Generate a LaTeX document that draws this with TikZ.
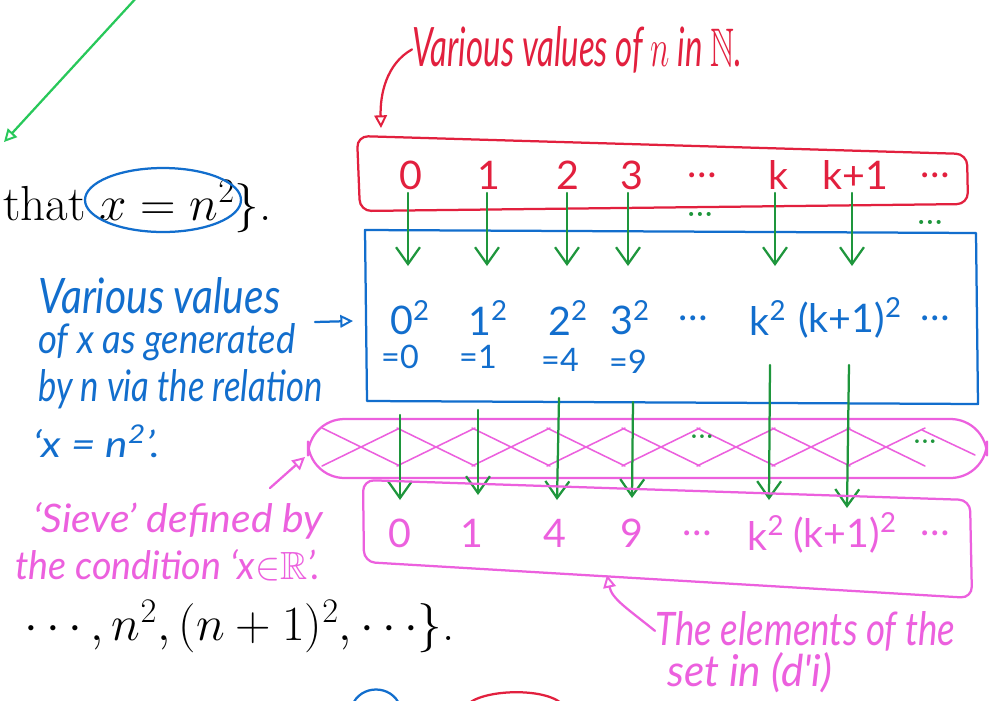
\RequirePackage{fix-cm}
\documentclass[tikz,border=0pt]{standalone}
\usepackage{graphicx}
\usepackage{amssymb}
\usepackage{fontspec}
\newfontfamily\hand{Lato}
\newdimen\pxu \pxu=0.025cm
\newcommand{\hw}[3]{\resizebox{#1\pxu}{#2\pxu}{#3}}
\usetikzlibrary{arrows.meta}
\definecolor{hred}{RGB}{226,32,62}
\definecolor{hblue}{RGB}{18,110,205}
\definecolor{hgreen}{RGB}{30,150,60}
\definecolor{lgreen}{RGB}{40,200,90}
\definecolor{hpink}{RGB}{236,96,222}
\tikzset{
  pen/.style={line width=1.6pt, line cap=round, line join=round},
  vtip/.style={-{Straight Barb[length=12pt,width=17pt,line width=1.6pt]}},
  otip/.style={-{Triangle[open,length=9pt,width=9pt,line width=1.4pt]}},
  ann/.style={font=\hand\itshape\fontsize{27}{30}\selectfont, inner sep=0pt, anchor=base west},
  num/.style={font=\hand\fontsize{28}{30}\selectfont, inner sep=1pt},
  sub/.style={font=\hand\fontsize{23}{26}\selectfont, inner sep=1pt},
  mtext/.style={font=\fontsize{35}{40}\selectfont, inner sep=0pt, anchor=base east},
}
\begin{document}
\begin{tikzpicture}[x=0.025cm,y=-0.025cm]
\useasboundingbox (0,0) rectangle (989,700);
\clip (0,0) rectangle (989,700);
\fill[white] (0,0) rectangle (989,700);

% printed math
\node[mtext] (m1) at (272,220) {that\hspace{0.28em}$x = n^2\}$.};
\node[mtext] (m2) at (455,640) {$\cdots, n^2, (n+1)^2, \cdots\}$.};
\draw[pen, hblue] (163,200) ellipse (78 and 32);

% green top-left line
\coordinate (gl1) at (138,-4);
\coordinate (gl2) at (4,142);
\draw[pen, lgreen, otip] (gl1) -- (gl2);

% red annotation
\node[ann, hred] (rt) at (412,66) {\hw{330}{40}{Various values of $n$ in $\mathbb{N}$.}};
\coordinate (ra) at (381,128);
\draw[pen, hred, otip] (rt.west) .. controls (386,64) and (380,95) .. (ra);

% red box
\draw[pen, hred, rounded corners=8] (357,136) -- (967,154) -- (968,204) -- (360,211) -- cycle;
\foreach \t/\x [count=\i] in {0/411,1/489,2/568,3/632,\dots/702,k/778,k+1/855,\dots/935}
  \node[num, hred] (r\i) at (\x,175) {\t};

% blue box
\draw[pen, hblue] (365,230) -- (976,233) -- (978,404) -- (367,401) -- cycle;
\foreach \t/\x [count=\i] in {0\textsuperscript{2}/410,1\textsuperscript{2}/488,2\textsuperscript{2}/568,3\textsuperscript{2}/630,\dots/693,k\textsuperscript{2}/768,(k+1)\textsuperscript{2}/850,\dots/935}
  \node[num, hblue] (b\i) at (\x,318) {\t};
\foreach \t/\x/\y [count=\i] in {=0/400/357,=1/478/357,=4/560/360,=9/628/362}
  \node[sub, hblue] (e\i) at (\x,\y) {\t};

% blue annotation
\node[ann, hblue] (bt1) at (38,313) {\hw{242}{36}{Various values}};
\node[ann, hblue] (bt2) at (38,353) {\hw{257}{30}{of x as generated}};
\node[ann, hblue] (bt3) at (38,401) {\hw{284}{32}{by n via the relation}};
\node[ann, hblue] (bt4) at (33,457) {\hw{127}{32}{‘x = n\textsuperscript{2}’.}};
\coordinate (ba) at (353,321);
\draw[pen, hblue, otip] (315,322) -- (ba);

% green arrows, first set
\foreach \x [count=\i] in {408,487,567,628,775,852} {
  \coordinate (ga\i) at (\x,193);
  \coordinate (gb\i) at (\x,266);
  \draw[pen, hgreen, vtip] (ga\i) -- (gb\i);
}
\node[hgreen, font=\bfseries\fontsize{20}{20}\selectfont] (d1) at (700,214) {...};
\node[hgreen, font=\bfseries\fontsize{20}{20}\selectfont] (d2) at (930,222) {...};

% sieve
\draw[pen, hpink, rounded corners=26] (308,419) rectangle (987,478);
\foreach \x in {322,397,472,547,622,697,772,847} {
  \draw[pen, hpink, line width=1.1pt] (\x,428) -- (\x+78,466);
  \draw[pen, hpink, line width=1.1pt] (\x,466) -- (\x+78,428);
}
\draw[pen, hpink, line width=1.1pt] (922,430) -- (975,455);
\node[hgreen, font=\bfseries\fontsize{18}{18}\selectfont] (d3) at (702,437) {...};
\node[hgreen, font=\bfseries\fontsize{18}{18}\selectfont] (d4) at (925,442) {...};

% green arrows, second set
\foreach \xa/\ya/\xb/\yb [count=\i] in {400/415/400/500,478/410/478/495,559/398/557/500,633/402/632/498,770/365/769/500,849/365/847/508} {
  \coordinate (gc\i) at (\xa,\ya);
  \coordinate (gd\i) at (\xb,\yb);
  \draw[pen, hgreen, vtip] (gc\i) -- (gd\i);
}

% pink box
\draw[pen, hpink, rounded corners=8] (363,480) -- (970,500) -- (972,598) -- (364,562) -- cycle;
\foreach \t/\x [count=\i] in {0/400,1/472,4/555,9/632,\dots/697,k\textsuperscript{2}/766,(k+1)\textsuperscript{2}/845,\dots/935}
  \node[num, hpink] (p\i) at (\x,533) {\t};

% pink annotations
\node[ann, hpink] (pt1) at (33,532) {\hw{290}{30}{‘Sieve’ defined by}};
\node[ann, hpink] (pt2) at (15,579) {\hw{305}{30}{the condition ‘x$\in$$\mathbb{R}$’.}};
\coordinate (pa) at (305,457);
\draw[pen, hpink, otip] (270,488) -- (pa);

\node[ann, hpink] (pt3) at (655,645) {\hw{300}{34}{The elements of the}};
\node[ann, hpink] (pt4) at (667,686) {\hw{165}{34}{set in (d'i)}};
\coordinate (pb) at (607,575);
\draw[pen, hpink, otip] (pt3.west) .. controls (628,609) and (612,599) .. (pb);

% partial shapes at the bottom
\draw[pen, hblue] (352,706) .. controls (360,684) and (392,684) .. (400,706);
\draw[pen, hred] (466,706) .. controls (480,689) and (545,687) .. (562,704);
\end{tikzpicture}
\end{document}
